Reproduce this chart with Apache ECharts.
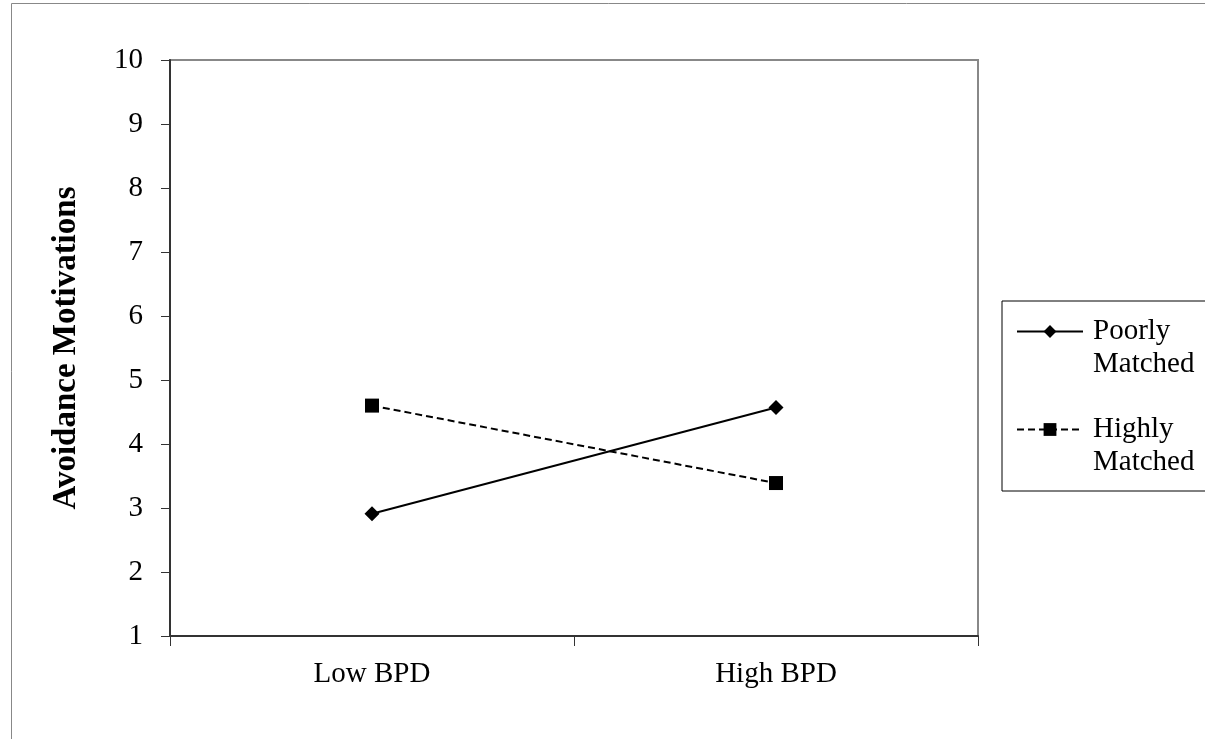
<!DOCTYPE html>
<html>
<head>
<meta charset="utf-8">
<script src="https://cdn.jsdelivr.net/npm/echarts@6/dist/echarts.min.js"></script>
<style>
html,body{margin:0;padding:0;background:#fff;}
#chart{width:1205px;height:739px;}
</style>
</head>
<body>
<div id="chart"></div>
<script>
var categories = ['Low BPD', 'High BPD'];
var seriesNames = ['Poorly Matched', 'Highly Matched'];
var legendLabels = {'Poorly Matched': ' \nPoorly\nMatched', 'Highly Matched': ' \nHighly\nMatched'};
var poorlyMatched = [2.91, 4.57];
var highlyMatched = [4.6, 3.39];
var yTicks = [1, 2, 3, 4, 5, 6, 7, 8, 9, 10];
var yTitle = 'Avoidance Motivations';

var FONT = '"Liberation Serif", "Times New Roman", serif';
var chart = echarts.init(document.getElementById('chart'), null, {renderer: 'canvas'});
chart.setOption({
  backgroundColor: '#fff',
  animation: false,
  graphic: [{
    type: 'polyline',
    shape: {points: [[11.5, 739], [11.5, 3.5], [1205, 3.5]]},
    style: {stroke: '#888', lineWidth: 1, fill: null},
    silent: true
  }],
  grid: {left: 170, right: 227, top: 60, bottom: 103, show: true, borderColor: '#888', borderWidth: 2},
  legend: {
    orient: 'vertical',
    left: 1002,
    top: 301,
    data: seriesNames,
    itemWidth: 66,
    itemHeight: 16,
    itemGap: -1,
    padding: [-19, 40, 12, 14],
    borderColor: '#000',
    borderWidth: 1,
    formatter: function (n) { return legendLabels[n]; },
    textStyle: {fontFamily: FONT, fontSize: 29, color: '#000', lineHeight: 33, padding: [0, 0, 0, 5]}
  },
  xAxis: {
    type: 'category',
    data: categories,
    boundaryGap: true,
    axisLine: {lineStyle: {color: '#333', width: 2}},
    axisTick: {show: true, length: 10, lineStyle: {color: '#333', width: 1}},
    axisLabel: {fontFamily: FONT, fontSize: 29, color: '#000', margin: 24},
    splitLine: {show: false}
  },
  yAxis: {
    type: 'value',
    min: 1, max: 10, interval: 1,
    axisLine: {show: true, lineStyle: {color: '#333', width: 2}},
    axisTick: {show: true, length: 9, lineStyle: {color: '#333', width: 1}},
    axisLabel: {fontFamily: FONT, fontSize: 29, color: '#000', margin: 27,
      formatter: function (v) { return yTicks.indexOf(v) >= 0 ? String(v) : ''; }},
    splitLine: {show: false},
    name: yTitle,
    nameLocation: 'middle',
    nameRotate: 90,
    nameGap: 87,
    nameTextStyle: {fontFamily: FONT, fontSize: 33, fontWeight: 'bold', color: '#000'}
  },
  series: [{
    name: seriesNames[0],
    type: 'line',
    data: poorlyMatched,
    symbol: 'diamond',
    symbolSize: 15,
    itemStyle: {color: '#000'},
    lineStyle: {color: '#000', width: 2, type: 'solid'}
  }, {
    name: seriesNames[1],
    type: 'line',
    data: highlyMatched,
    symbol: 'rect',
    symbolSize: 14,
    itemStyle: {color: '#000'},
    lineStyle: {color: '#000', width: 2, type: [7, 4]}
  }]
});
</script>
</body>
</html>
